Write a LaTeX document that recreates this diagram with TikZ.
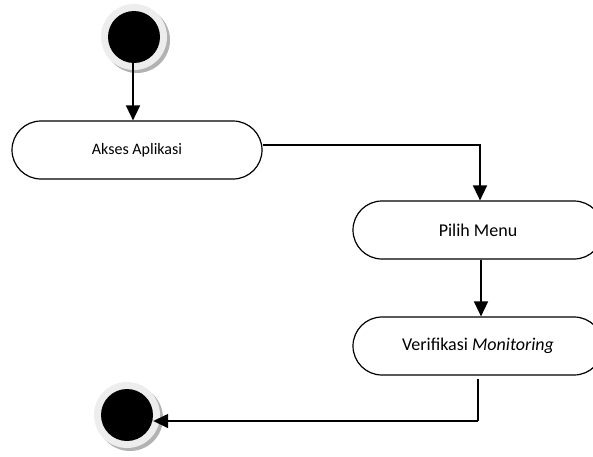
\documentclass[tikz,border=0pt]{standalone}
\usepackage{fontspec}
\setmainfont{Carlito}
\usetikzlibrary{shapes.misc,arrows.meta}
\tikzset{
  activity/.style={rounded rectangle, draw=black, line width=1.2pt, fill=white,
    minimum width=250pt, minimum height=58pt, inner sep=0pt, font=\fontsize{18}{20}\selectfont},
  halo/.style={circle, fill=black!7, minimum size=66pt, inner sep=0pt},
  halofall/.style={circle, fill=black!30, minimum size=66pt, inner sep=0pt},
  dot/.style={circle, fill=black, minimum size=52pt, inner sep=0pt},
  flow/.style={line width=1.5pt, -{Triangle[length=15pt,width=14pt]}},
  plain/.style={line width=1.5pt}
}
\begin{document}
\begin{tikzpicture}[x=1pt,y=-1pt]
\useasboundingbox (0,0) rectangle (593,456);

% initial state
\node[halofall] at (137,40) {};
\node[halo] at (134,37) {};
\node[dot] (start) at (134,37) {};

% activities
\node[activity, font=\fontsize{16}{18}\selectfont] (akses) at (137,150) {Akses Aplikasi};
\node[activity] (pilih) at (478,230) {Pilih Menu};
\node[activity] (verif) at (478,346) {Verifikasi \textit{Monitoring}};

% final state
\node[halofall] at (130,418) {};
\node[halo] at (127,415) {};
\node[dot] (final) at (127,415) {};

% flows
\draw[flow] (start.south -| 133,0) -- (akses.north -| 133,0);
\draw[flow] ([yshift=5pt]akses.east) -| (pilih.north -| 480,0);
\draw[flow] (pilih.south -| 481,0) -- (verif.north -| 481,0);
\coordinate (leave) at (478,379);
\coordinate (bend) at (478,421);
\draw[plain] (leave) -- (bend);
\draw[flow] (bend) -- (bend -| final.east);
\end{tikzpicture}
\end{document}
